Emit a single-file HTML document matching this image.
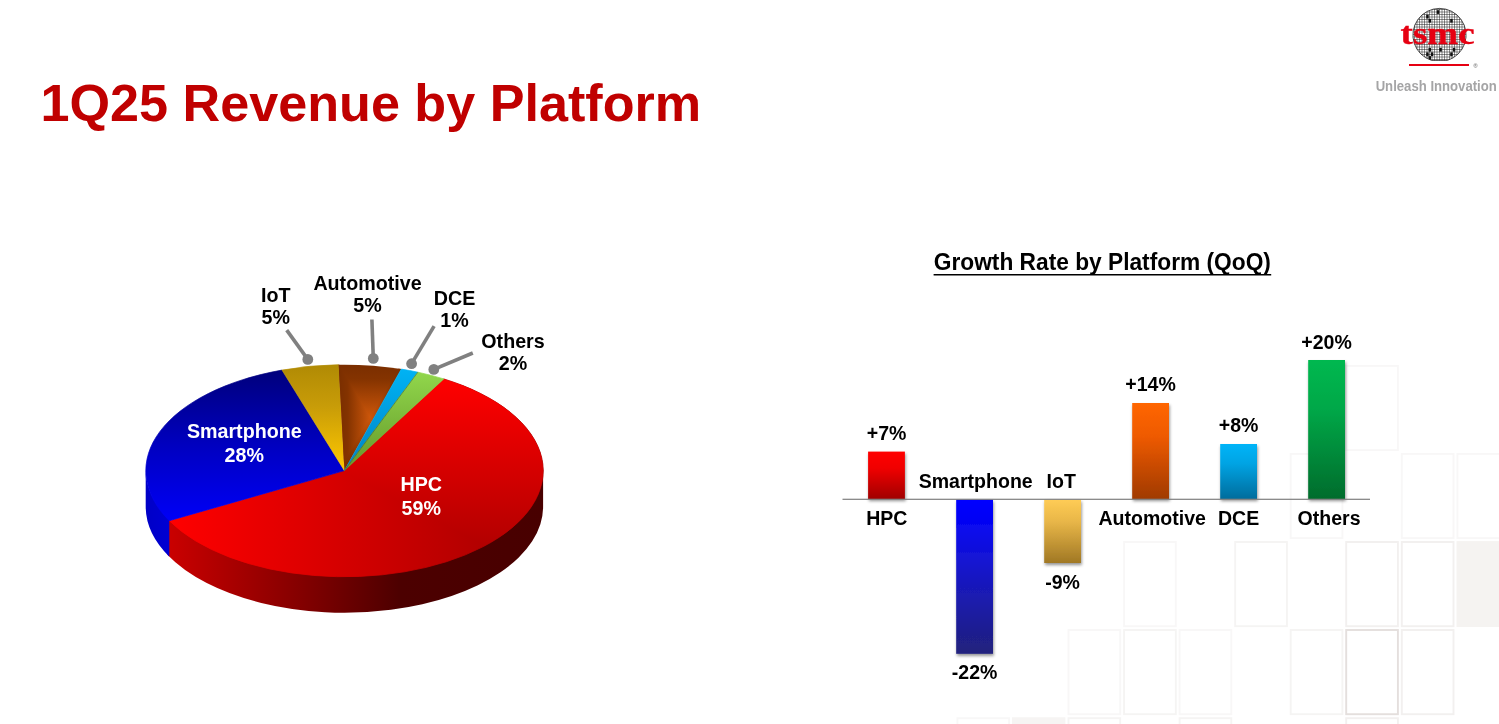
<!DOCTYPE html>
<html lang="en"><head><meta charset="utf-8"><title>1Q25 Revenue by Platform</title>
<style>html,body{margin:0;padding:0;background:#fff;overflow:hidden}body{width:1499px;height:724px;position:relative;font-family:"Liberation Sans",Arial,sans-serif}</style>
</head><body>
<svg width="1499" height="724" viewBox="0 0 1499 724" style="position:absolute;left:0;top:0">
<defs>
<linearGradient id="gRedTop" gradientUnits="userSpaceOnUse" x1="169" y1="0" x2="543" y2="0"><stop offset="0" stop-color="#ff0000"/><stop offset="1" stop-color="#a40000"/></linearGradient>
<linearGradient id="gRedTopV" gradientUnits="userSpaceOnUse" x1="0" y1="379" x2="0" y2="577"><stop offset="0" stop-color="#ff0000"/><stop offset="1" stop-color="#a40000"/></linearGradient>
<clipPath id="cHpc"><path d="M344.4 470.6 L443.8 378.9 A198.7 106.0 0 1 1 169.3 520.7 Z"/></clipPath>
<linearGradient id="gRedSide" gradientUnits="userSpaceOnUse" x1="169" y1="0" x2="543" y2="0"><stop offset="0" stop-color="#ca0000"/><stop offset="0.35" stop-color="#840000"/><stop offset="0.62" stop-color="#4c0000"/><stop offset="1" stop-color="#480000"/></linearGradient>
<linearGradient id="gBlueTop" gradientUnits="userSpaceOnUse" x1="0" y1="366" x2="0" y2="525"><stop offset="0" stop-color="#000078"/><stop offset="0.5" stop-color="#0000c0"/><stop offset="1" stop-color="#0000fa"/></linearGradient>
<linearGradient id="gBlueSide" gradientUnits="userSpaceOnUse" x1="145" y1="0" x2="170" y2="0"><stop offset="0" stop-color="#0000c6"/><stop offset="1" stop-color="#0000d4"/></linearGradient>
<linearGradient id="gIot" gradientUnits="userSpaceOnUse" x1="0" y1="364" x2="0" y2="470"><stop offset="0" stop-color="#b08a04"/><stop offset="0.4" stop-color="#c89c08"/><stop offset="1" stop-color="#ffc800"/></linearGradient>
<linearGradient id="gAutoV" gradientUnits="userSpaceOnUse" x1="0" y1="364" x2="0" y2="470"><stop offset="0" stop-color="#7a2e00"/><stop offset="0.14" stop-color="#843300"/><stop offset="0.5" stop-color="#cc560a"/><stop offset="0.86" stop-color="#843300"/><stop offset="1" stop-color="#7a2e00"/></linearGradient>
<linearGradient id="gAutoL" gradientUnits="userSpaceOnUse" x1="339" y1="0" x2="370" y2="0"><stop offset="0" stop-color="#7a2e00"/><stop offset="0.28" stop-color="#843300"/><stop offset="1" stop-color="#cc560a"/></linearGradient>
<linearGradient id="gAutoR" gradientUnits="userSpaceOnUse" x1="401" y1="0" x2="370" y2="0"><stop offset="0" stop-color="#7a2e00"/><stop offset="0.28" stop-color="#843300"/><stop offset="1" stop-color="#cc560a"/></linearGradient>
<clipPath id="cAuto"><path d="M344.4 470.6 L338.7 364.7 A198.7 106.0 0 0 1 401.3 369.1 Z"/></clipPath>
<linearGradient id="gDce" gradientUnits="userSpaceOnUse" x1="0" y1="366" x2="0" y2="470"><stop offset="0" stop-color="#00b4f6"/><stop offset="1" stop-color="#0082c2"/></linearGradient>
<linearGradient id="gOth" gradientUnits="userSpaceOnUse" x1="0" y1="370" x2="0" y2="470"><stop offset="0" stop-color="#92d84c"/><stop offset="1" stop-color="#64982a"/></linearGradient>
<linearGradient id="bRed" x1="0" y1="0" x2="0" y2="1"><stop offset="0" stop-color="#ff0000"/><stop offset="0.35" stop-color="#f00000"/><stop offset="1" stop-color="#a00000"/></linearGradient>
<linearGradient id="bBlue" x1="0" y1="0" x2="0" y2="1"><stop offset="0" stop-color="#0000ff"/><stop offset="0.12" stop-color="#0404f6"/><stop offset="0.4" stop-color="#1515d2"/><stop offset="0.7" stop-color="#1c1ca6"/><stop offset="1" stop-color="#21217c"/></linearGradient>
<linearGradient id="bGold" x1="0" y1="0" x2="0" y2="1"><stop offset="0" stop-color="#ffcc55"/><stop offset="0.35" stop-color="#e8b648"/><stop offset="1" stop-color="#a07824"/></linearGradient>
<linearGradient id="bOrange" x1="0" y1="0" x2="0" y2="1"><stop offset="0" stop-color="#ff6600"/><stop offset="0.35" stop-color="#ee5a00"/><stop offset="1" stop-color="#a03a00"/></linearGradient>
<linearGradient id="bCyan" x1="0" y1="0" x2="0" y2="1"><stop offset="0" stop-color="#00b4f8"/><stop offset="0.35" stop-color="#00a4e4"/><stop offset="1" stop-color="#006c9c"/></linearGradient>
<linearGradient id="bGreen" x1="0" y1="0" x2="0" y2="1"><stop offset="0" stop-color="#00b850"/><stop offset="0.35" stop-color="#00a848"/><stop offset="1" stop-color="#006c2c"/></linearGradient>
<filter id="sh" x="-20%" y="-20%" width="150%" height="150%"><feDropShadow dx="0.8" dy="2.1" stdDeviation="1.4" flood-color="#000" flood-opacity="0.42"/></filter>
<clipPath id="wafer"><path d="M1431.6 60.4A26.6 26.6 0 1 1 1447.4 60.4Z"/></clipPath>
</defs>
<g fill="none" stroke-width="1.9">
<rect x="1346.2" y="365.9" width="51.7" height="84.2" stroke="#f8f7f7"/>
<rect x="1290.7" y="453.9" width="51.7" height="84.2" stroke="#f8f7f7"/>
<rect x="1401.8" y="453.9" width="51.7" height="84.2" stroke="#f8f7f7"/>
<rect x="1457.4" y="453.9" width="51.7" height="84.2" stroke="#f8f7f7"/>
<rect x="1124.1" y="542.0" width="51.7" height="84.2" stroke="#f8f7f7"/>
<rect x="1235.2" y="542.0" width="51.7" height="84.2" stroke="#f5f4f3"/>
<rect x="1346.2" y="542.0" width="51.7" height="84.2" stroke="#f2f0ef"/>
<rect x="1401.8" y="542.0" width="51.7" height="84.2" stroke="#f2f0ef"/>
<rect x="1068.5" y="630.0" width="51.7" height="84.2" stroke="#f8f7f7"/>
<rect x="1124.1" y="630.0" width="51.7" height="84.2" stroke="#f5f4f3"/>
<rect x="1179.6" y="630.0" width="51.7" height="84.2" stroke="#f8f7f7"/>
<rect x="1290.7" y="630.0" width="51.7" height="84.2" stroke="#f5f4f3"/>
<rect x="1346.2" y="630.0" width="51.7" height="84.2" stroke="#e4dfdd"/>
<rect x="1401.8" y="630.0" width="51.7" height="84.2" stroke="#f2f0ef"/>
<rect x="957.4" y="718.2" width="51.7" height="84.2" stroke="#f8f7f7"/>
<rect x="1068.5" y="718.2" width="51.7" height="84.2" stroke="#f5f4f3"/>
<rect x="1179.6" y="718.2" width="51.7" height="84.2" stroke="#f5f4f3"/>
<rect x="1346.2" y="718.2" width="51.7" height="84.2" stroke="#f2f0ef"/>
</g>
<rect x="1456.5" y="541.1" width="60" height="85.9" fill="#f5f3f1"/>
<rect x="1012.0" y="717.3" width="53.4" height="20" fill="#f6f4f3"/>
<text x="40.5" y="121.2" font-family="Liberation Sans, Arial, sans-serif" font-weight="700" font-size="52.15" fill="#c00000">1Q25 Revenue by Platform</text>
<path d="M543.1 469.1 A198.7 106.0 0 0 1 167.4 517.3 L167.4 554.8 A198.7 106.0 0 0 0 543.1 506.6 Z" fill="url(#gRedSide)"/>
<path d="M169.3 519.2 A198.7 106.0 0 0 1 145.7 469.1 L145.7 506.6 A198.7 106.0 0 0 0 169.3 556.7 Z" fill="url(#gBlueSide)"/>
<path d="M344.4 470.6 L443.8 378.9 A198.7 106.0 0 1 1 169.3 520.7 Z" fill="url(#gRedTop)" stroke="url(#gRedTop)" stroke-width="0.8"/>
<path d="M169 379H560V586Z" fill="url(#gRedTopV)" clip-path="url(#cHpc)"/>
<path d="M344.4 470.6 L169.3 520.7 A198.7 106.0 0 0 1 282.0 370.1 Z" fill="url(#gBlueTop)" stroke="url(#gBlueTop)" stroke-width="0.7" stroke-linejoin="round"/>
<path d="M344.4 470.6 L282.0 370.1 A198.7 106.0 0 0 1 338.7 364.7 Z" fill="url(#gIot)" stroke="url(#gIot)" stroke-width="0.7" stroke-linejoin="round"/>
<g clip-path="url(#cAuto)"><rect x="337" y="362" width="66" height="110" fill="url(#gAutoV)"/><path d="M339 364V470L370 417Z" fill="url(#gAutoL)"/><path d="M401 364V470L370 417Z" fill="url(#gAutoR)"/><rect x="337" y="362" width="2.2" height="110" fill="#7a2e00"/></g>
<path d="M344.4 470.6 L401.3 369.1 A198.7 106.0 0 0 1 417.9 372.2 Z" fill="url(#gDce)" stroke="url(#gDce)" stroke-width="0.7" stroke-linejoin="round"/>
<path d="M344.4 470.6 L417.9 372.2 A198.7 106.0 0 0 1 443.8 378.9 Z" fill="url(#gOth)" stroke="url(#gOth)" stroke-width="0.7" stroke-linejoin="round"/>
<path d="M344.4 470.6 L417.9 372.2" stroke="#3a4a20" stroke-opacity="0.55" stroke-width="0.8" fill="none"/>
<g stroke="#808080" stroke-width="3.6" stroke-linecap="butt" fill="#808080">
<line x1="286.7" y1="330.1" x2="307.8" y2="359.4"/>
<circle cx="307.8" cy="359.4" r="5.4" stroke="none"/>
<line x1="371.9" y1="319.5" x2="373.3" y2="358.4"/>
<circle cx="373.3" cy="358.4" r="5.4" stroke="none"/>
<line x1="434.1" y1="326.1" x2="411.6" y2="363.7"/>
<circle cx="411.6" cy="363.7" r="5.4" stroke="none"/>
<line x1="472.8" y1="353.0" x2="433.8" y2="369.4"/>
<circle cx="433.8" cy="369.4" r="5.4" stroke="none"/>
</g>
<g font-family="Liberation Sans, Arial, sans-serif" font-weight="700" font-size="19.7" text-anchor="middle" fill="#000">
<text transform="translate(275.7 301.8) scale(1 1.045)">IoT</text>
<text transform="translate(275.7 323.5) scale(1 1.045)">5%</text>
<text transform="translate(367.5 290.0) scale(1 1.045)">Automotive</text>
<text transform="translate(367.5 311.7) scale(1 1.045)">5%</text>
<text transform="translate(454.5 304.8) scale(1 1.045)">DCE</text>
<text transform="translate(454.5 326.5) scale(1 1.045)">1%</text>
<text transform="translate(513.0 348.0) scale(1 1.045)">Others</text>
<text transform="translate(513.0 369.7) scale(1 1.045)">2%</text>
<text transform="translate(244.3 437.8) scale(1 1.045)" fill="#fff">Smartphone</text>
<text transform="translate(244.3 462.2) scale(1 1.045)" fill="#fff">28%</text>
<text transform="translate(421.2 491.0) scale(1 1.045)" fill="#fff">HPC</text>
<text transform="translate(421.2 515.4) scale(1 1.045)" fill="#fff">59%</text>
</g>
<text transform="translate(1102.3 269.7) scale(1 1.04)" font-family="Liberation Sans, Arial, sans-serif" font-weight="700" font-size="22.75" text-anchor="middle" fill="#000">Growth Rate by Platform (QoQ)</text>
<rect x="933.6" y="274.0" width="337.6" height="1.5" fill="#000"/>
<g filter="url(#sh)">
<rect x="868.1" y="451.6" width="36.8" height="47.4" fill="url(#bRed)"/>
<rect x="956.2" y="499.6" width="36.8" height="154.2" fill="url(#bBlue)"/>
<rect x="1044.2" y="499.6" width="36.8" height="63.4" fill="url(#bGold)"/>
<rect x="1132.2" y="403.0" width="36.8" height="96.0" fill="url(#bOrange)"/>
<rect x="1220.2" y="444.0" width="36.8" height="55.0" fill="url(#bCyan)"/>
<rect x="1308.2" y="360.0" width="36.8" height="139.0" fill="url(#bGreen)"/>
</g>
<rect x="842.5" y="498.7" width="527.5" height="1.2" fill="#7f7f7f"/>
<g font-family="Liberation Sans, Arial, sans-serif" font-weight="700" font-size="19.55" text-anchor="middle" fill="#000">
<text transform="translate(886.6 440.2) scale(1 1.045)">+7%</text>
<text transform="translate(974.6 678.6) scale(1 1.045)">-22%</text>
<text transform="translate(1062.6 589.0) scale(1 1.045)">-9%</text>
<text transform="translate(1150.6 390.9) scale(1 1.045)">+14%</text>
<text transform="translate(1238.6 431.9) scale(1 1.045)">+8%</text>
<text transform="translate(1326.6 348.8) scale(1 1.045)">+20%</text>
<text transform="translate(886.8 524.6) scale(1 1.045)">HPC</text>
<text transform="translate(975.7 488.2) scale(1 1.045)">Smartphone</text>
<text transform="translate(1061.2 488.2) scale(1 1.045)">IoT</text>
<text transform="translate(1152.2 524.6) scale(1 1.045)">Automotive</text>
<text transform="translate(1238.6 524.5) scale(1 1.045)">DCE</text>
<text transform="translate(1329.0 524.5) scale(1 1.045)">Others</text>
</g>
<g clip-path="url(#wafer)">
<rect x="1410" y="5" width="60" height="60" fill="#fff"/>
<path d="M1414.50 6V64M1417.00 6V64M1419.50 6V64M1422.00 6V64M1424.50 6V64M1427.00 6V64M1429.50 6V64M1432.00 6V64M1434.50 6V64M1437.00 6V64M1439.50 6V64M1442.00 6V64M1444.50 6V64M1447.00 6V64M1449.50 6V64M1452.00 6V64M1454.50 6V64M1457.00 6V64M1459.50 6V64M1462.00 6V64M1464.50 6V64M1467.00 6V64M1412 9.50H1468M1412 12.00H1468M1412 14.50H1468M1412 17.00H1468M1412 19.50H1468M1412 22.00H1468M1412 24.50H1468M1412 27.00H1468M1412 29.50H1468M1412 32.00H1468M1412 34.50H1468M1412 37.00H1468M1412 39.50H1468M1412 42.00H1468M1412 44.50H1468M1412 47.00H1468M1412 49.50H1468M1412 52.00H1468M1412 54.50H1468M1412 57.00H1468M1412 59.50H1468M1412 62.00H1468" stroke="#1c1c1c" stroke-width="0.5" fill="none"/>
<rect x="1436.7" y="10.2" width="2.5" height="3.7" fill="#111"/>
<rect x="1426.2" y="14.8" width="2.5" height="3.7" fill="#111"/>
<rect x="1428.5" y="18.9" width="2.5" height="3.7" fill="#111"/>
<rect x="1450.2" y="18.9" width="2.5" height="3.7" fill="#111"/>
<rect x="1428.5" y="47.9" width="2.5" height="3.7" fill="#111"/>
<rect x="1439.3" y="47.9" width="2.5" height="3.7" fill="#111"/>
<rect x="1452.8" y="47.9" width="2.5" height="3.7" fill="#111"/>
<rect x="1426.2" y="52.4" width="2.5" height="3.7" fill="#111"/>
<rect x="1430.8" y="52.4" width="2.5" height="3.7" fill="#111"/>
<rect x="1450.2" y="52.4" width="2.5" height="3.7" fill="#111"/>
<rect x="1428.5" y="56.1" width="2.5" height="3.7" fill="#111"/>
</g>
<path d="M1431.6 60.4A26.6 26.6 0 1 1 1447.4 60.4Z" fill="none" stroke="#222" stroke-width="0.8"/>
<text x="1400.6" y="43.6" font-family="Liberation Serif, Times New Roman, serif" font-weight="700" font-size="30.5" fill="#e60012" stroke="#e60012" stroke-width="0.35" textLength="74" lengthAdjust="spacingAndGlyphs">tsmc</text>
<rect x="1409" y="64" width="60" height="2" fill="#e60012"/>
<text x="1473.6" y="68" font-family="Liberation Sans, Arial, sans-serif" font-size="5.5" fill="#555">®</text>
<text transform="translate(1496.8 90.8) scale(1 1.08)" font-family="Liberation Sans, Arial, sans-serif" font-weight="700" font-size="13.15" text-anchor="end" fill="#a5a5a6">Unleash Innovation</text>
</svg>
</body></html>
